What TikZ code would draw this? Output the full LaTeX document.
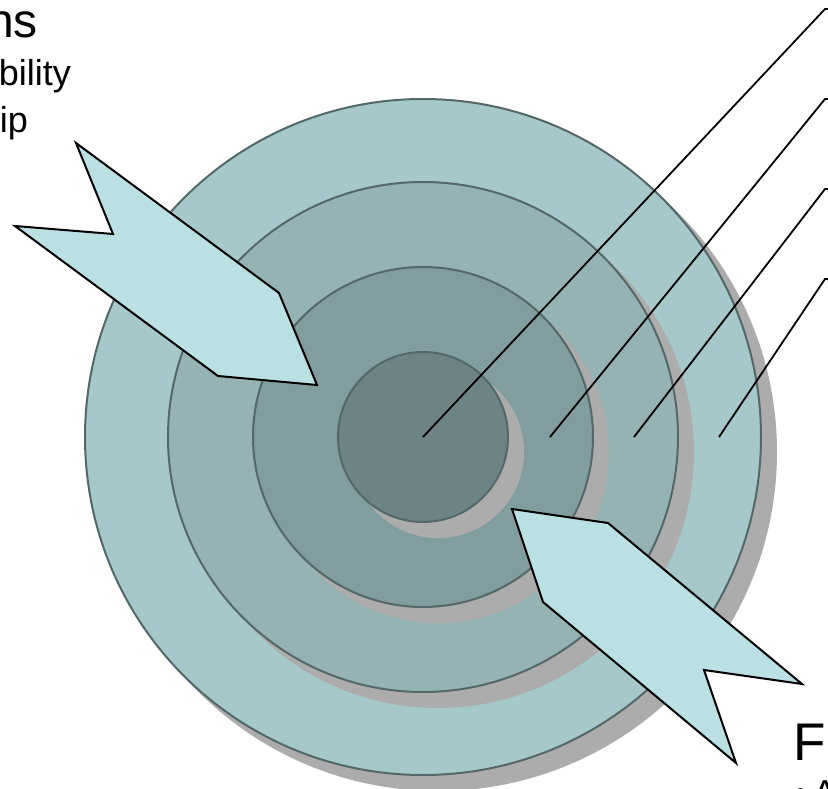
\documentclass[tikz,border=0pt]{standalone}
\usepackage{fontspec}
\setmainfont{Liberation Sans}
\definecolor{ringA}{RGB}{166,200,202}
\definecolor{ringB}{RGB}{149,178,180}
\definecolor{ringC}{RGB}{130,157,159}
\definecolor{ringD}{RGB}{110,131,133}
\definecolor{ringline}{RGB}{84,103,105}
\definecolor{shadowgray}{RGB}{172,172,172}
\definecolor{arrowfill}{RGB}{186,224,228}
\begin{document}
\begin{tikzpicture}[x=1pt,y=-1pt,
  ring/.style={circle, inner sep=0pt, draw=ringline, line width=2pt, minimum size=#1},
  ringshadow/.style={circle, inner sep=0pt, fill=shadowgray, minimum size=#1},
  leader/.style={draw=black, line width=1.8pt},
  bigarrow/.style={fill=arrowfill, draw=black, line width=2pt, line join=miter},
  txt/.style={inner sep=0pt, text=black}]
\useasboundingbox (0,0) rectangle (828,789);
\clip (0,0) rectangle (828,789);
% rings with shadows
\node[ringshadow=678pt] (s1) at (438,452) {};
\node[ring=676pt, fill=ringA] (c1) at (423,437) {};
\node[ringshadow=512pt] (s2) at (438,452) {};
\node[ring=510pt, fill=ringB] (c2) at (423,437) {};
\node[ringshadow=342pt] (s3) at (438,452) {};
\node[ring=340pt, fill=ringC] (c3) at (423,437) {};
\node[ringshadow=172pt] (s4) at (438,452) {};
\node[ring=170pt, fill=ringD] (c4) at (423,437) {};
% leader lines
\coordinate (p1) at (423,437);
\coordinate (p2) at (550,437);
\coordinate (p3) at (634,437);
\coordinate (p4) at (719,437);
\coordinate (b1) at (825,9);
\coordinate (b2) at (825,99);
\coordinate (b3) at (825,189);
\coordinate (b4) at (825,279);
\coordinate (e1) at (845,9);
\coordinate (e2) at (845,99);
\coordinate (e3) at (845,189);
\coordinate (e4) at (845,279);
\draw[leader] (p1) -- (b1) -- (e1);
\draw[leader] (p2) -- (b2) -- (e2);
\draw[leader] (p3) -- (b3) -- (e3);
\draw[leader] (p4) -- (b4) -- (e4);
% arrows
\draw[bigarrow] (76,143) -- (279,293) -- (317,385) -- (218,376) -- (15,226) -- (113,234) -- cycle;
\draw[bigarrow] (512,509) -- (608,523) -- (802,684) -- (704,670) -- (736,763) -- (543,602) -- cycle;
% clipped texts
\node[txt, anchor=base east, font=\fontsize{48}{56}\selectfont] (t1) at (38,38) {ns};
\node[txt, anchor=base east, font=\fontsize{36}{42}\selectfont] (t2) at (71,86) {bility};
\node[txt, anchor=base east, font=\fontsize{36}{42}\selectfont] (t3) at (28,133) {ip};
\node[txt, anchor=base west, font=\fontsize{53}{60}\selectfont] (t4) at (793.5,760) {F};
\node[txt, anchor=base west, font=\fontsize{36}{42}\selectfont] (t5) at (794,805) {•\,A};
\end{tikzpicture}
\end{document}
